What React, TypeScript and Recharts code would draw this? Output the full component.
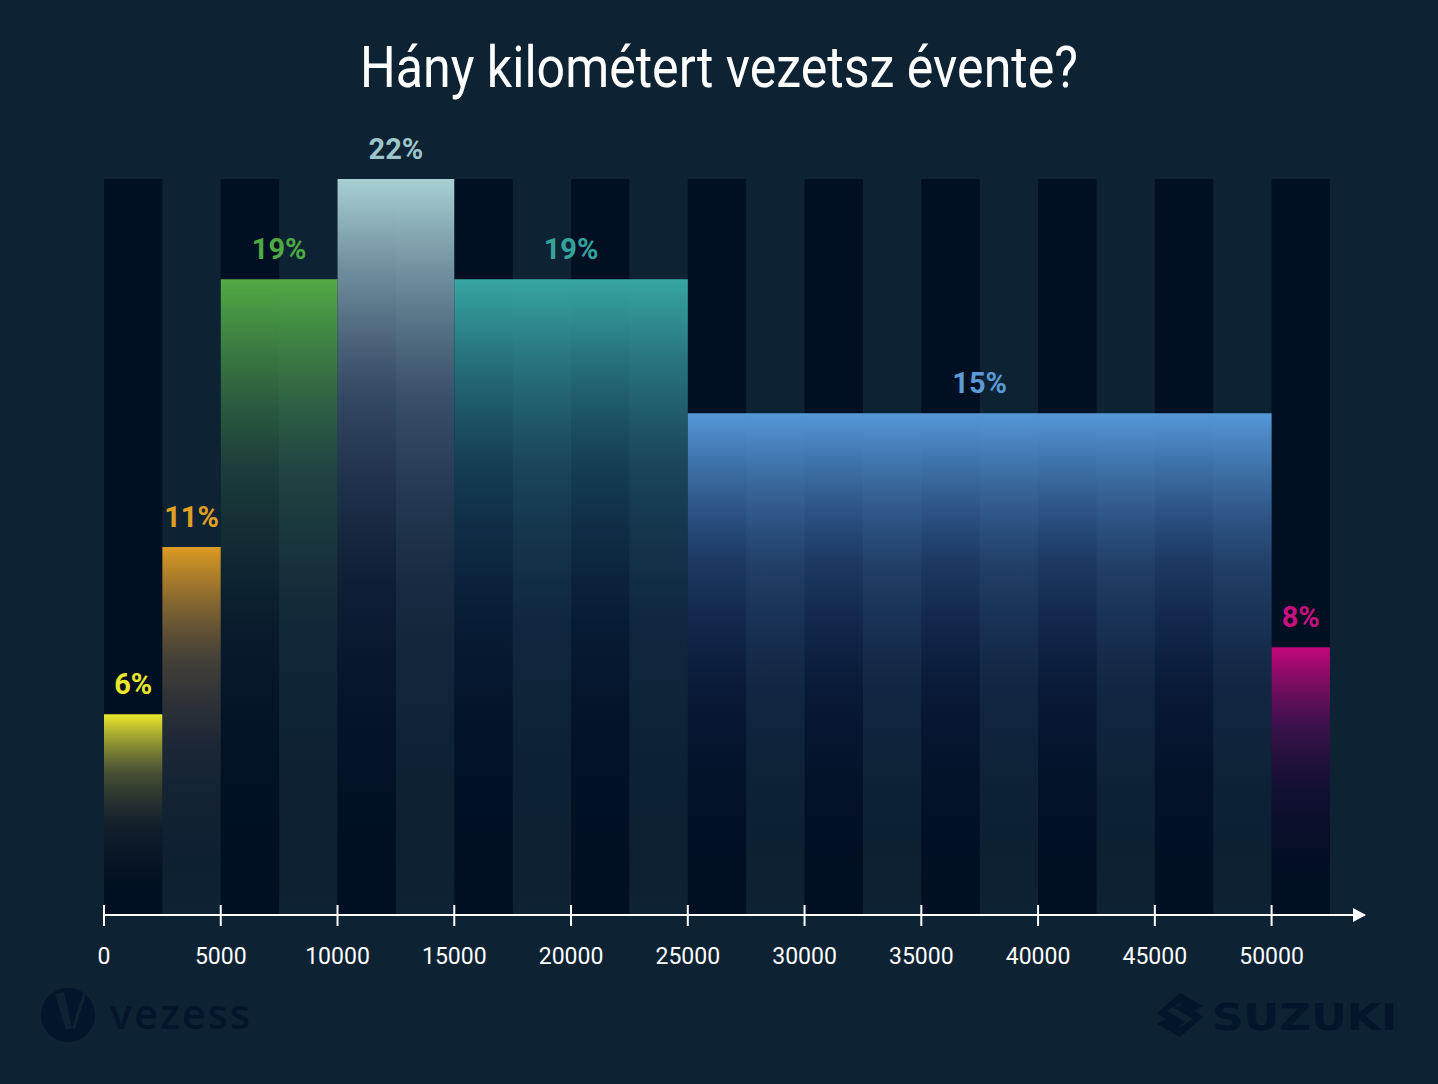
import React from 'react'
import { ComposedChart, Area, LabelList, XAxis, YAxis, ReferenceArea, ReferenceDot } from 'recharts'

// ─── data ─────────────────────────────────────────────────────────────────
// Histogram bins (km / year) and the share of respondents in each.

const binStart  = [0, 2500, 5000, 10000, 15000, 25000, 50000]
const binEnd    = [2500, 5000, 10000, 15000, 25000, 50000, 52500]
const shares    = [6, 11, 19, 22, 19, 15, 8]
const binLabels = ['6%', '11%', '19%', '22%', '19%', '15%', '8%']

const xTicks = [0, 5000, 10000, 15000, 20000, 25000, 30000, 35000, 40000, 45000, 50000]

// dark background stripes, each 2500 wide
const stripeStart = [0, 5000, 10000, 15000, 20000, 25000, 30000, 35000, 40000, 45000, 50000]
const stripeEnd   = [2500, 7500, 12500, 17500, 22500, 27500, 32500, 37500, 42500, 47500, 52500]

// ─── palette ──────────────────────────────────────────────────────────────

const BG     = '#0d2233'
const STRIPE = '#000f22'
const LOGO   = '#03152a'
const binColors   = ['#ece92c', '#dd9b22', '#52aa44', '#a8d0d3', '#37a6a1', '#5598d8', '#c4077c']
const labelColors = ['#ebe82c', '#e0a024', '#4eaa42', '#9cc6c9', '#36a29e', '#5b9ad6', '#c8107f']

function hexToRgb(h: string) {
  const n = parseInt(h.slice(1), 16)
  return [(n >> 16) & 255, (n >> 8) & 255, n & 255]
}

function mix(a: string, b: string, t: number): string {
  const A = hexToRgb(a), B = hexToRgb(b)
  const c = A.map((v, i) => Math.round(v * (1 - t) + B[i] * t))
  return '#' + c.map(v => v.toString(16).padStart(2, '0')).join('')
}

// ─── table ────────────────────────────────────────────────────────────────
// One row per bin edge / bin centre; bin i only has values on its own three
// rows, so each Area closes into a flat-topped rectangle.

function buildRows() {
  const xs = new Set<number>()
  binStart.forEach((s, i) => { xs.add(s); xs.add((s + binEnd[i]) / 2); xs.add(binEnd[i]) })
  return [...xs].sort((a, b) => a - b).map(x => {
    const row: Record<string, any> = { x }
    binStart.forEach((s, i) => {
      const mid = (s + binEnd[i]) / 2
      row[`b${i}`] = x === s || x === mid || x === binEnd[i] ? shares[i] : null
      row[`l${i}`] = x === mid ? binLabels[i] : null
    })
    return row
  })
}

// ─── axis pieces ──────────────────────────────────────────────────────────

function XTick({ x, y, payload }: any) {
  return (
    <g>
      <line x1={x} x2={x} y1={y - 10} y2={y + 11} stroke="#ffffff" strokeWidth={2} />
      <text x={x} y={y + 49} textAnchor="middle" fill="#ffffff" fontSize={23} fontFamily="Roboto, sans-serif">
        {payload.value}
      </text>
    </g>
  )
}

function Arrow({ cx, cy }: any) {
  return <path d={`M${cx - 12},${cy - 7} L${cx + 1},${cy} L${cx - 12},${cy + 7} Z`} fill="#ffffff" />
}

// ─── component ────────────────────────────────────────────────────────────

export default function App() {
  const rows = buildRows()

  return (
    <div style={{ position: 'relative', width: 1438, height: 1084, background: BG }}>
      <style>{`body{margin:0;background:${BG}}`}</style>

      <ComposedChart
        width={1438}
        height={1084}
        data={rows}
        margin={{ top: 179, right: 73, bottom: 109, left: 104 }}
      >
        <defs>
          {binColors.map((c, i) => (
            <linearGradient key={i} id={`bin-${i}`} x1="0" y1="0" x2="0" y2="1">
              <stop offset="0"    stopColor={c} stopOpacity={1} />
              <stop offset="0.3"  stopColor={mix(c, '#101c50', 0.55)} stopOpacity={0.6} />
              <stop offset="0.55" stopColor={mix(c, '#0a1440', 0.8)} stopOpacity={0.35} />
              <stop offset="1"    stopColor="#000a20" stopOpacity={0} />
            </linearGradient>
          ))}
        </defs>

        <XAxis
          type="number"
          dataKey="x"
          domain={[0, 54000]}
          ticks={xTicks}
          interval={0}
          height={60}
          tickSize={0}
          tickMargin={0}
          tickLine={false}
          axisLine={{ stroke: '#ffffff', strokeWidth: 2 }}
          tick={<XTick />}
        />
        <YAxis type="number" domain={[0, 22]} hide />

        {stripeStart.map((s, i) => (
          <ReferenceArea
            key={`s${i}`}
            x1={s}
            x2={stripeEnd[i]}
            y1={0}
            y2={22}
            fill={STRIPE}
            fillOpacity={1}
            stroke="none"
            ifOverflow="extendDomain"
          />
        ))}

        {binStart.map((_, i) => (
          <Area
            key={`b${i}`}
            type="linear"
            dataKey={`b${i}`}
            connectNulls={false}
            stroke="none"
            fill={`url(#bin-${i})`}
            fillOpacity={1}
            dot={false}
            activeDot={false}
            baseValue={0}
            isAnimationActive={false}
          >
            <LabelList
              dataKey={`l${i}`}
              position="top"
              offset={20}
              fill={labelColors[i]}
              fontSize={29}
              fontWeight={700}
              fontFamily="Roboto, sans-serif"
            />
          </Area>
        ))}

        <ReferenceDot x={54000} y={0} r={0} shape={<Arrow />} ifOverflow="visible" />
      </ComposedChart>

      <svg width={1438} height={1084} style={{ position: 'absolute', left: 0, top: 0, pointerEvents: 'none' }}>
        <text
          x={719}
          y={87}
          textAnchor="middle"
          fill="#ffffff"
          fontSize={58}
          fontFamily="Roboto, sans-serif"
          textLength={718}
          lengthAdjust="spacingAndGlyphs"
        >
          Hány kilométert vezetsz évente?
        </text>

        {/* vezess logo */}
        <circle cx={68} cy={1015} r={27} fill={LOGO} />
        <path d="M55,994 L64,992 L72,1028 L66,1030 Z" fill={BG} />
        <path d="M72,1028 L83,993 L86,994 L75,1029 Z" fill={BG} />
        <text x={110} y={1029} fill={LOGO} fontSize={41} fontWeight={600} fontFamily="'Open Sans', sans-serif" textLength={140}>
          vezess
        </text>

        {/* SUZUKI logo */}
        <path d="M1180,993 L1203,1006 L1194,1011 L1180,1003 L1167,1011 L1186,1022 L1177,1027 L1157,1013 Z" fill={LOGO} />
        <path d="M1180,1037 L1157,1024 L1166,1019 L1180,1027 L1193,1019 L1174,1008 L1183,1003 L1203,1017 Z" fill={LOGO} />
        <text
          x={1212}
          y={1030}
          fill={LOGO}
          fontSize={38}
          fontWeight={900}
          fontFamily="'DejaVu Sans', sans-serif"
          textLength={185}
          lengthAdjust="spacingAndGlyphs"
        >
          SUZUKI
        </text>
      </svg>
    </div>
  )
}
